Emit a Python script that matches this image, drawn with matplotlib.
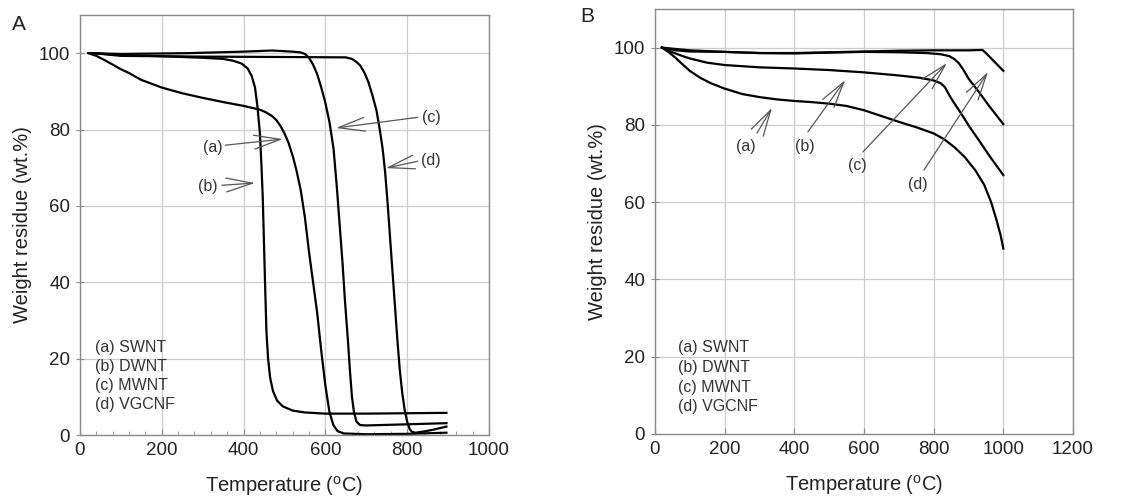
import matplotlib
matplotlib.use('Agg')
import matplotlib.pyplot as plt
from matplotlib.ticker import MultipleLocator

plt.rcParams['font.family'] = ['Liberation Sans', 'DejaVu Sans']
plt.rcParams['mathtext.fontset'] = 'custom'
plt.rcParams['mathtext.rm'] = 'Liberation Sans'

# Panel A: TGA curves (temperature, wt.%)
a_swnt_t = [20, 40, 60, 80, 100, 120, 150, 200, 250, 300, 350, 400, 440, 455, 470, 480, 490, 500, 510, 521, 530, 540, 550, 560,
            570, 580, 590, 600, 610, 620, 630, 645, 700, 800, 896]
a_swnt_w = [100, 99.3, 98.2, 97, 95.8, 94.8, 93, 91, 89.5, 88.3, 87.2, 86.2, 85.2, 84.5, 83.5, 82.5, 81, 79, 76.5, 72.8, 69, 64, 57, 48,
            40, 32, 22, 13, 6, 2.5, 1, 0.4, 0.2, 0.3, 0.6]
a_dwnt_t = [30, 100, 200, 300, 350, 375, 395, 410, 420, 428, 434, 440, 444, 447, 450, 453, 456, 460, 465, 472, 482, 496, 520, 550,
            600, 700, 800, 896]
a_dwnt_w = [100, 99.5, 99.2, 98.8, 98.5, 98, 97.3, 96, 94, 91, 86, 79, 70, 62, 50, 38, 27, 20, 15, 11.5, 9, 7.5, 6.4, 5.9,
            5.6, 5.6, 5.7, 5.8]
a_mwnt_t = [25, 100, 260, 400, 470, 520, 540, 550, 560, 570, 580, 590, 600, 610, 620, 628, 635, 642, 648, 655, 660, 665, 670,
            676, 685, 700, 800, 896]
a_mwnt_w = [100, 99.8, 100, 100.4, 100.7, 100.4, 100.2, 99.8, 98.8, 97, 94.5, 91, 87, 82, 75, 65, 55, 45, 35, 25, 17, 10, 6,
            3.5, 2.6, 2.5, 2.8, 3.1]
a_vgcnf_t = [35, 100, 300, 500, 650, 665, 675, 685, 695, 705, 715, 725, 733, 740, 746, 752, 758, 764, 770, 776, 782, 788, 794,
             800, 806, 812, 820, 840, 860, 880, 896]
a_vgcnf_w = [100, 99.3, 99.1, 99, 98.9, 98.5, 97.8, 96.8, 95, 92.5, 89, 85, 80, 75, 69, 61, 52, 43, 34, 25, 17, 11, 6.5,
             3.5, 1.6, 0.8, 0.6, 0.9, 1.3, 1.8, 2.2]

# Panel B: TGA curves (temperature, wt.%)
b_swnt_t = [20, 40, 60, 80, 100, 130, 160, 200, 250, 300, 350, 400, 450, 500, 550, 600, 650, 700, 750, 800, 830, 860, 890, 920,
            945, 965, 980, 992, 1000]
b_swnt_w = [100, 98.8, 97.3, 95.6, 94, 92.2, 90.8, 89.4, 88, 87.2, 86.6, 86.2, 85.9, 85.5, 84.9, 83.8, 82.3, 80.8, 79.4, 77.8,
            76.3, 74.2, 71.6, 68.2, 64.5, 60, 55.5, 51.5, 48]
b_dwnt_t = [20, 50, 80, 100, 150, 200, 300, 400, 500, 600, 700, 760, 800, 820, 832, 840, 848, 860, 880, 903, 930, 960, 1000]
b_dwnt_w = [100, 98.8, 97.8, 97.2, 96.1, 95.5, 94.9, 94.6, 94.2, 93.6, 92.8, 92.2, 91.5, 90.8, 89.8, 88.5, 87.2, 85.5, 82.8,
            79.5, 76, 72, 67]
b_mwnt_t = [20, 60, 100, 200, 300, 400, 500, 600, 700, 780, 820, 845, 860, 872, 885, 900, 930, 960, 1000]
b_mwnt_w = [100, 99.3, 99, 98.9, 98.6, 98.5, 98.7, 98.9, 98.8, 98.6, 98.3, 97.8, 97, 96, 94.3, 92, 88.5, 84.8, 80.2]
b_vgcnf_t = [20, 100, 200, 300, 400, 500, 600, 700, 800, 900, 940, 950, 1000]
b_vgcnf_w = [100, 99.3, 98.9, 98.6, 98.6, 98.8, 99.0, 99.2, 99.3, 99.3, 99.4, 98.6, 94]

legend_lines = ['(a) SWNT', '(b) DWNT', '(c) MWNT', '(d) VGCNF']

# annotations: label, text position, arrow tail, arrow head
a_notes = [('(a)', (325, 75.4), (355, 75.9), (496, 77.5)),
           ('(b)', (313, 65.0), (347, 65.4), (428, 66.0)),
           ('(c)', (858, 83.2), (826, 83.2), (626, 80.4)),
           ('(d)', (858, 72.0), (826, 71.7), (748, 69.9))]
b_notes = [('(a)', (261, 74.3), (293, 77.9), (336, 84.4)),
           ('(b)', (431, 74.3), (439, 78.2), (546, 91.6)),
           ('(c)', (580, 69.6), (597, 73.0), (838, 96.0)),
           ('(d)', (755, 64.5), (772, 68.3), (956, 93.7))]

fig = plt.figure(figsize=(11.47, 5.0), dpi=100)
axA = fig.add_axes([0.0697, 0.13, 0.3566, 0.84])
axB = fig.add_axes([0.571, 0.132, 0.3645, 0.85])

spine_col = '#8a8a8a'
arrow_col = '#555555'


def style_axes(ax, xmax):
    ax.set_xlim(0, xmax)
    ax.set_ylim(0, 110)
    ax.xaxis.set_major_locator(MultipleLocator(200))
    ax.yaxis.set_major_locator(MultipleLocator(20))
    ax.grid(True, color='#cccccc', linewidth=0.9)
    ax.set_axisbelow(True)
    for s in ax.spines.values():
        s.set_color(spine_col)
        s.set_linewidth(1.0)
    ax.tick_params(axis='x', direction='in', length=4, color=spine_col,
                   labelsize=13.5, labelcolor='#222222', pad=5)
    ax.tick_params(axis='y', direction='inout', length=6, color=spine_col,
                   labelsize=13.5, labelcolor='#222222', pad=4)
    ax.set_xlabel(r'Temperature ($^{\rm o}$C)', fontsize=14.5, color='#222222', labelpad=11)
    ax.set_ylabel('Weight residue (wt.%)', fontsize=14.5, color='#222222', labelpad=5)


def annotate(ax, notes):
    for label, tpos, tail, head in notes:
        ax.text(tpos[0], tpos[1], label, fontsize=11.5, color='#333333',
                ha='center', va='center')
        ax.annotate('', xy=head, xytext=tail,
                    arrowprops=dict(arrowstyle='->,head_length=1.9,head_width=0.5',
                                    color=arrow_col, lw=0.9, shrinkA=0, shrinkB=0))


style_axes(axA, 1000)
axA.xaxis.set_minor_locator(MultipleLocator(40))
axA.tick_params(axis='x', which='minor', direction='in', length=3, color=spine_col)
for t, w in [(a_swnt_t, a_swnt_w), (a_dwnt_t, a_dwnt_w),
             (a_mwnt_t, a_mwnt_w), (a_vgcnf_t, a_vgcnf_w)]:
    axA.plot(t, w, color='black', lw=1.6)
annotate(axA, a_notes)
for i, s in enumerate(legend_lines):
    axA.text(37, 22.8 - i * 4.95, s, fontsize=11.5, color='#333333', va='center')
fig.text(0.010, 0.95, 'A', fontsize=15, color='#222222', va='center')

style_axes(axB, 1200)
for t, w in [(b_swnt_t, b_swnt_w), (b_dwnt_t, b_dwnt_w),
             (b_mwnt_t, b_mwnt_w), (b_vgcnf_t, b_vgcnf_w)]:
    axB.plot(t, w, color='black', lw=1.6)
annotate(axB, b_notes)
for i, s in enumerate(legend_lines):
    axB.text(66, 22.3 - i * 5.1, s, fontsize=11.5, color='#333333', va='center')
fig.text(0.506, 0.966, 'B', fontsize=15, color='#222222', va='center')

fig.savefig('out.png', dpi=100)
